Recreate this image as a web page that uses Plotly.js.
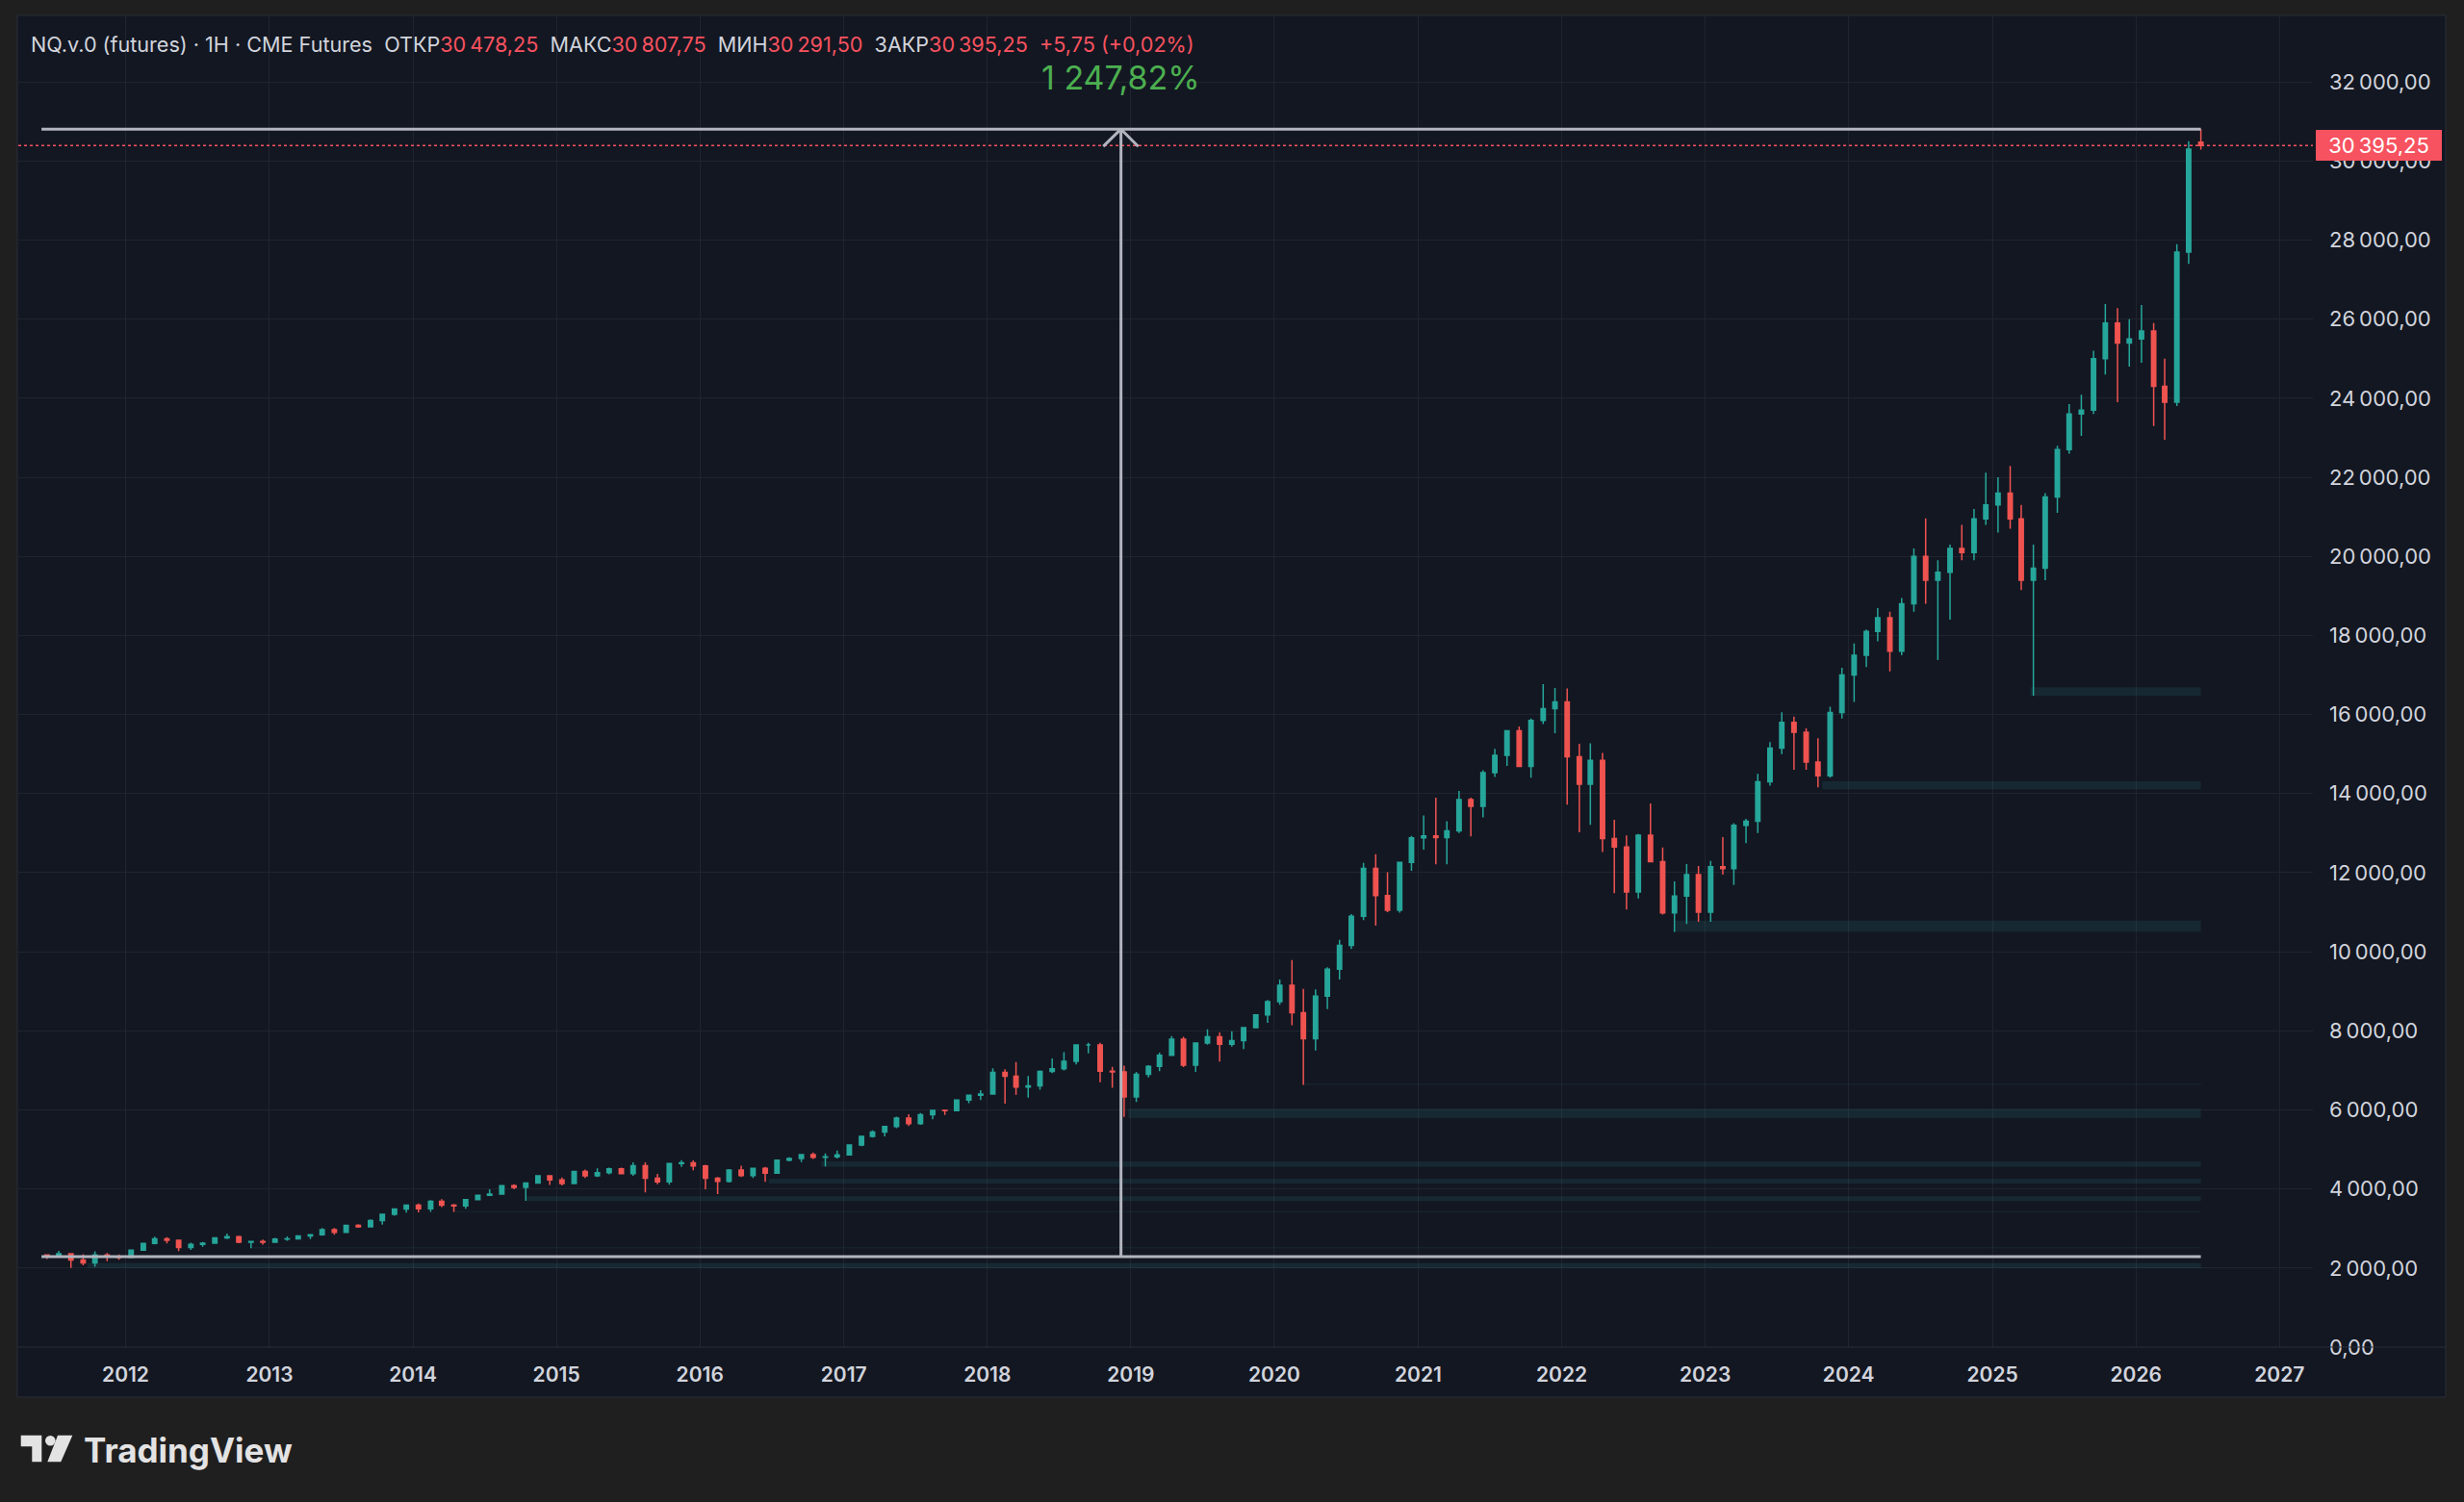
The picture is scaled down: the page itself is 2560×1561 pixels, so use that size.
<!DOCTYPE html>
<html><head><meta charset="utf-8">
<script src="https://cdn.plot.ly/plotly-3.0.1.min.js"></script>
<style>html,body{margin:0;padding:0;background:#1f1f1f;}#chart{width:2560px;height:1561px;}</style>
</head><body><div id="chart"></div>
<script>
// ---------- DATA (monthly OHLC) ----------
const months = [
'2011-06','2011-07','2011-08','2011-09','2011-10','2011-11','2011-12',
'2012-01','2012-02','2012-03','2012-04','2012-05','2012-06','2012-07','2012-08','2012-09','2012-10','2012-11','2012-12',
'2013-01','2013-02','2013-03','2013-04','2013-05','2013-06','2013-07','2013-08','2013-09','2013-10','2013-11','2013-12',
'2014-01','2014-02','2014-03','2014-04','2014-05','2014-06','2014-07','2014-08','2014-09','2014-10','2014-11','2014-12',
'2015-01','2015-02','2015-03','2015-04','2015-05','2015-06','2015-07','2015-08','2015-09','2015-10','2015-11','2015-12',
'2016-01','2016-02','2016-03','2016-04','2016-05','2016-06','2016-07','2016-08','2016-09','2016-10','2016-11','2016-12',
'2017-01','2017-02','2017-03','2017-04','2017-05','2017-06','2017-07','2017-08','2017-09','2017-10','2017-11','2017-12',
'2018-01','2018-02','2018-03','2018-04','2018-05','2018-06','2018-07','2018-08','2018-09','2018-10','2018-11','2018-12',
'2019-01','2019-02','2019-03','2019-04','2019-05','2019-06','2019-07','2019-08','2019-09','2019-10','2019-11','2019-12',
'2020-01','2020-02','2020-03','2020-04','2020-05','2020-06','2020-07','2020-08','2020-09','2020-10','2020-11','2020-12',
'2021-01','2021-02','2021-03','2021-04','2021-05','2021-06','2021-07','2021-08','2021-09','2021-10','2021-11','2021-12',
'2022-01','2022-02','2022-03','2022-04','2022-05','2022-06','2022-07','2022-08','2022-09','2022-10','2022-11','2022-12',
'2023-01','2023-02','2023-03','2023-04','2023-05','2023-06','2023-07','2023-08','2023-09','2023-10','2023-11','2023-12',
'2024-01','2024-02','2024-03','2024-04','2024-05','2024-06','2024-07','2024-08','2024-09','2024-10','2024-11','2024-12',
'2025-01','2025-02','2025-03','2025-04','2025-05','2025-06','2025-07','2025-08','2025-09','2025-10','2025-11','2025-12',
'2026-01','2026-02','2026-03','2026-04','2026-05','2026-06'];

const openP = [
2330,2290,2360,2200,2130,2330,2290,
2270,2450,2620,2740,2700,2520,2600,2630,2760,2790,2650,2670,
2650,2730,2740,2810,2840,2970,2900,3080,3040,3200,3360,3490,
3590,3500,3690,3590,3570,3730,3840,3870,4080,4040,4150,4330,
4230,4140,4440,4330,4410,4510,4390,4590,4270,4180,4640,4660,
4580,4270,4190,4480,4340,4520,4400,4730,4770,4870,4800,4810,
4860,5110,5330,5440,5580,5790,5650,5880,5990,5980,6250,6370,
6400,6950,6850,6580,6610,6970,7040,7230,7640,7640,6980,6960,
6330,6900,7100,7380,7790,7130,7690,7850,7660,7750,8080,8400,
8740,9150,8460,7800,8880,9560,10160,10900,12110,11420,11050,12260,
12880,12930,12890,13060,13850,13680,14530,14970,15590,14690,15850,16150,
16320,14930,14240,14840,12860,12650,11510,12950,12280,10980,11410,11950,
11000,12150,12100,13200,13300,14300,15150,15800,15550,14800,14450,16050,
17000,17500,18100,18450,17600,18800,20000,19400,19600,20200,20100,20950,
21300,21600,20950,19400,19700,21500,22700,23600,23700,25000,25900,25400,
25500,25700,24300,23900,27700,30478.25];

const highP = [
2350,2435,2370,2350,2420,2380,2340,
2470,2640,2790,2780,2720,2640,2660,2780,2870,2820,2690,2720,
2760,2800,2830,2860,3010,3010,3090,3110,3230,3370,3510,3600,
3630,3720,3740,3620,3740,3860,3990,4100,4120,4160,4350,4340,
4290,4460,4490,4520,4540,4540,4670,4670,4380,4660,4730,4720,
4610,4300,4500,4590,4530,4560,4740,4800,4880,4920,4900,4970,
5130,5350,5480,5600,5830,5890,5920,5990,6010,6260,6380,6500,
7050,7030,7210,6860,7000,7300,7460,7650,7700,7700,7090,7120,
6960,7130,7450,7870,7850,7700,8040,7960,7990,8100,8420,8780,
9300,9790,9060,9050,9610,10300,10950,12250,12470,12010,12280,12930,
13450,13900,13300,14070,13900,14590,15130,15600,15700,15900,16770,16670,
16660,15260,15270,15030,13340,12940,12980,13750,12640,11780,12220,12170,
12300,12900,13250,13360,14500,15300,16060,15950,15650,15400,16200,17180,
17800,18150,18690,18600,18950,20200,20960,19900,20300,20800,21200,22120,
22000,22290,21300,20300,21600,22800,23850,24090,25200,26380,26280,26000,
26360,25900,25000,27900,30500,30807.75];

const lowP = [
2230,2280,2000,2070,2030,2170,2210,
2260,2440,2600,2620,2430,2460,2540,2610,2730,2630,2500,2590,
2640,2690,2720,2730,2820,2840,2890,3020,3040,3100,3320,3400,
3410,3420,3540,3420,3500,3710,3830,3850,3990,3700,4130,4100,
4090,4120,4280,4300,4370,4380,4330,3910,4120,4110,4560,4470,
3990,3870,4160,4300,4280,4180,4380,4700,4680,4760,4570,4770,
4850,5080,5300,5330,5540,5590,5620,5760,5870,5960,6170,6250,
6380,6160,6380,6310,6510,6930,7000,7150,7430,6700,6560,5820,
6200,6820,6980,7370,7080,6960,7650,7220,7600,7540,8060,8200,
8660,8140,6630,7500,8550,9300,10070,10800,10660,11000,10990,12050,
12580,12210,12210,13000,12920,13400,14420,14700,14680,14400,15760,15530,
13720,13020,13210,12520,11480,11070,11350,12260,10940,10500,10700,10760,
10760,11950,11690,12750,13000,14200,15000,14600,14600,14160,14400,15900,
16320,17200,17850,17090,17500,18600,18800,17380,18400,19900,19900,20800,
20600,20700,19150,16480,19400,21100,22600,23050,23600,24600,23900,24800,
24900,23300,22950,23800,27400,30291.50];

const closeP = [
2290,2360,2200,2130,2330,2290,2270,
2450,2620,2740,2700,2520,2600,2630,2760,2790,2650,2670,2650,
2730,2740,2810,2840,2970,2900,3080,3040,3200,3360,3490,3590,
3500,3690,3590,3570,3730,3840,3870,4080,4040,4150,4330,4230,
4140,4440,4330,4410,4510,4390,4590,4270,4180,4640,4660,4580,
4270,4190,4480,4340,4520,4400,4730,4770,4870,4800,4810,4860,
5110,5330,5440,5580,5790,5650,5880,5990,5980,6250,6370,6400,
6950,6850,6580,6610,6970,7040,7230,7640,7640,6980,6960,6330,
6900,7100,7380,7790,7130,7690,7850,7660,7750,8080,8400,8740,
9150,8460,7800,8880,9560,10160,10900,12110,11420,11050,12260,12880,
12930,12890,13060,13850,13680,14530,14970,15590,14690,15850,16150,16320,
14930,14240,14840,12860,12650,11510,12950,12280,10980,11410,11950,11000,
12150,12100,13200,13300,14300,15150,15800,15550,14800,14450,16050,17000,
17500,18100,18450,17600,18800,20000,19400,19600,20200,20100,20950,21300,
21600,20950,19400,19700,21500,22700,23600,23700,25000,25900,25400,25500,
25700,24300,23900,27700,30300,30395.25];

// support zones (start date, low, high)
const zoneStart = ['2011-09-26','2012-11-16','2014-04-14','2014-10-15','2016-06-24','2016-11-04','2018-12-26','2020-03-16','2022-10-13','2023-10-26','2025-04-07'];
const zoneLow  = [1990,2500,3415,3695,4140,4560,5790,6630,10510,14110,16470];
const zoneHigh = [2125,2525,3440,3815,4260,4700,6030,6665,10790,14310,16690];

// measurement tool levels
const measureLevels = [2285.75, 30807.75];
// last 1H bar change
const lastChange = [5.75, 0.02];

// ticks
const yearTicks = ['2012','2013','2014','2015','2016','2017','2018','2019','2020','2021','2022','2023','2024','2025','2026','2027'];

// ---------- helpers ----------
const W = 2560, H = 1561;
const L = 19, R = 157, T = 17, B = 161;
const PW = W - L - R, PH = H - T - B;
const px = x => (x - L) / PW;
const py = y => 1 - (y - T) / PH;
const NS = '\u202F';
function fmt(v, sep) {
  const s = Math.abs(v).toFixed(2).split('.');
  const i = s[0].replace(/\B(?=(\d{3})+(?!\d))/g, sep || NS);
  return (v < 0 ? '-' : '') + i + ',' + s[1];
}
const xDates = months.map(m => m + '-15');
const n = xDates.length;
const x0 = '2011-06-01', x1 = xDates[n - 1];
const t0 = new Date(x0).getTime(), t1 = new Date(x1).getTime();
const midDate = new Date((t0 + t1) / 2).toISOString().slice(0, 10);

// axis scale (for arrowhead size in pixels)
const xRange = ['2011-04-03', '2027-03-27'];
const yRange = [0, 33660];
const msPerPx = (new Date(xRange[1]) - new Date(xRange[0])) / PW;
const valPerPx = (yRange[1] - yRange[0]) / PH;
const ah = 18;
const aL = new Date(new Date(midDate).getTime() - ah * msPerPx).toISOString().slice(0, 10);
const aR = new Date(new Date(midDate).getTime() + ah * msPerPx).toISOString().slice(0, 10);

const UP = '#26a69a', DN = '#ef5350', TXT = '#d1d4dc', GRID = '#20242f', PANEL = '#131722';
const FONT = 'Inter, "Noto Sans", sans-serif';

const shapes = [];
// panel
shapes.push({type:'rect', xref:'paper', yref:'paper', x0:px(18), x1:px(2541), y0:py(1452), y1:py(16),
  fillcolor:PANEL, line:{color:'#2a2e39', width:1}, layer:'below'});
// time axis separator
shapes.push({type:'line', xref:'paper', yref:'paper', x0:px(18), x1:px(2541), y0:py(1400), y1:py(1400),
  line:{color:'#2a2e39', width:1}, layer:'above'});
// zones
for (let i = 0; i < zoneStart.length; i++) {
  shapes.push({type:'rect', xref:'x', yref:'y', x0:zoneStart[i], x1:x1, y0:zoneLow[i], y1:zoneHigh[i],
    fillcolor:'rgba(46,150,150,0.14)', line:{width:0}, layer:'between'});
}
// current price line
shapes.push({type:'line', xref:'paper', yref:'y', x0:0, x1:1, y0:closeP[n-1], y1:closeP[n-1],
  line:{color:'#f7525f', width:1.5, dash:'dot'}, layer:'above'});
// measurement lines
const MC = '#b2b5be';
shapes.push({type:'line', xref:'x', yref:'y', x0:x0, x1:x1, y0:measureLevels[0], y1:measureLevels[0], line:{color:MC, width:3}, layer:'above'});
shapes.push({type:'line', xref:'x', yref:'y', x0:x0, x1:x1, y0:measureLevels[1], y1:measureLevels[1], line:{color:MC, width:3}, layer:'above'});
shapes.push({type:'line', xref:'x', yref:'y', x0:midDate, x1:midDate, y0:measureLevels[0], y1:measureLevels[1], line:{color:MC, width:3}, layer:'above'});
shapes.push({type:'line', xref:'x', yref:'y', x0:aL, x1:midDate, y0:measureLevels[1] - ah * valPerPx, y1:measureLevels[1], line:{color:MC, width:3}, layer:'above'});
shapes.push({type:'line', xref:'x', yref:'y', x0:aR, x1:midDate, y0:measureLevels[1] - ah * valPerPx, y1:measureLevels[1], line:{color:MC, width:3}, layer:'above'});

// TradingView logo
const LOGO = '#e3e3e3';
function pathPx(pts) { return 'M' + pts.map(p => px(p[0]) + ',' + py(p[1])).join(' L') + ' Z'; }
shapes.push({type:'path', xref:'paper', yref:'paper', fillcolor:LOGO, line:{width:0},
  path: pathPx([[21.7,1491.7],[43.3,1491.7],[43.3,1519.3],[33.3,1519.3],[33.3,1503.3],[21.7,1503.3]])});
shapes.push({type:'circle', xref:'paper', yref:'paper', fillcolor:LOGO, line:{width:0},
  x0:px(47), x1:px(57.6), y0:py(1502.6), y1:py(1492)});
shapes.push({type:'path', xref:'paper', yref:'paper', fillcolor:LOGO, line:{width:0},
  path: pathPx([[60,1491.7],[75.3,1491.7],[63.3,1519.3],[49.3,1519.3]])});

const red = s => '<span style="color:#f7525f">' + s + '</span>';
const sp = '\u00A0\u00A0';
const header = 'NQ.v.0 (futures) · 1H · CME Futures' + sp +
  'ОТКР' + red(fmt(openP[n-1])) + sp +
  'МАКС' + red(fmt(highP[n-1])) + sp +
  'МИН' + red(fmt(lowP[n-1])) + sp +
  'ЗАКР' + red(fmt(closeP[n-1])) + sp +
  red('+' + fmt(lastChange[0]) + ' (+' + fmt(lastChange[1]) + '%)');

const pct = (measureLevels[1] - measureLevels[0]) / measureLevels[0] * 100;

const annotations = [
  {xref:'paper', yref:'paper', x:px(30), y:py(46), xanchor:'left', yanchor:'middle', showarrow:false,
   text: header, font:{family:FONT, size:21.6, color:TXT}},
  {xref:'x', yref:'y', x:midDate, y:measureLevels[1], xanchor:'center', yanchor:'middle', yshift:54, showarrow:false,
   text: fmt(pct, '\u00A0') + '%', font:{family:FONT, size:34, color:'#4caf50'}},
  {xref:'paper', yref:'y', x:1, y:closeP[n-1], xanchor:'left', yanchor:'middle', xshift:3, showarrow:false,
   text: fmt(closeP[n-1]), font:{family:FONT, size:22, color:'#ffffff'}, bgcolor:'#f7525f', bordercolor:'#f7525f',
   borderpad:4, width:121, height:22, align:'center'},
  {xref:'paper', yref:'paper', x:px(85), y:py(1507), xanchor:'left', yanchor:'middle', showarrow:false,
   text:'TradingView', font:{family:FONT, size:35, color:LOGO, weight:700}}
];

const trace = {
  type:'candlestick', x:xDates, open:openP, high:highP, low:lowP, close:closeP,
  increasing:{line:{color:UP, width:1.5}, fillcolor:UP},
  decreasing:{line:{color:DN, width:1.5}, fillcolor:DN},
  whiskerwidth:0, hoverinfo:'skip', showlegend:false
};

const layout = {
  width:W, height:H,
  margin:{l:L, r:R, t:T, b:B, pad:0},
  paper_bgcolor:'#1f1f1f', plot_bgcolor:PANEL,
  separators:',' + NS,
  font:{family:FONT, color:TXT},
  showlegend:false, hovermode:false, dragmode:false,
  boxgap:0.45,
  xaxis:{type:'date', range:xRange, rangeslider:{visible:false},
    tickmode:'array', tickvals:yearTicks.map(y => y + '-01-01'), ticktext:yearTicks,
    showgrid:true, gridcolor:GRID, gridwidth:1, zeroline:false, showline:false, ticks:'',
    ticklabelstandoff:14, tickfont:{family:FONT, size:21, color:TXT, weight:600}},
  yaxis:{side:'right', range:yRange, dtick:2000, tick0:0, tickformat:',.2f',
    showgrid:true, gridcolor:GRID, gridwidth:1, zeroline:false, showline:false, ticks:'',
    ticklabelstandoff:16, tickfont:{family:FONT, size:22, color:TXT}},
  shapes:shapes, annotations:annotations
};

Plotly.newPlot('chart', [trace], layout, {staticPlot:true, displayModeBar:false});
</script></body></html>
